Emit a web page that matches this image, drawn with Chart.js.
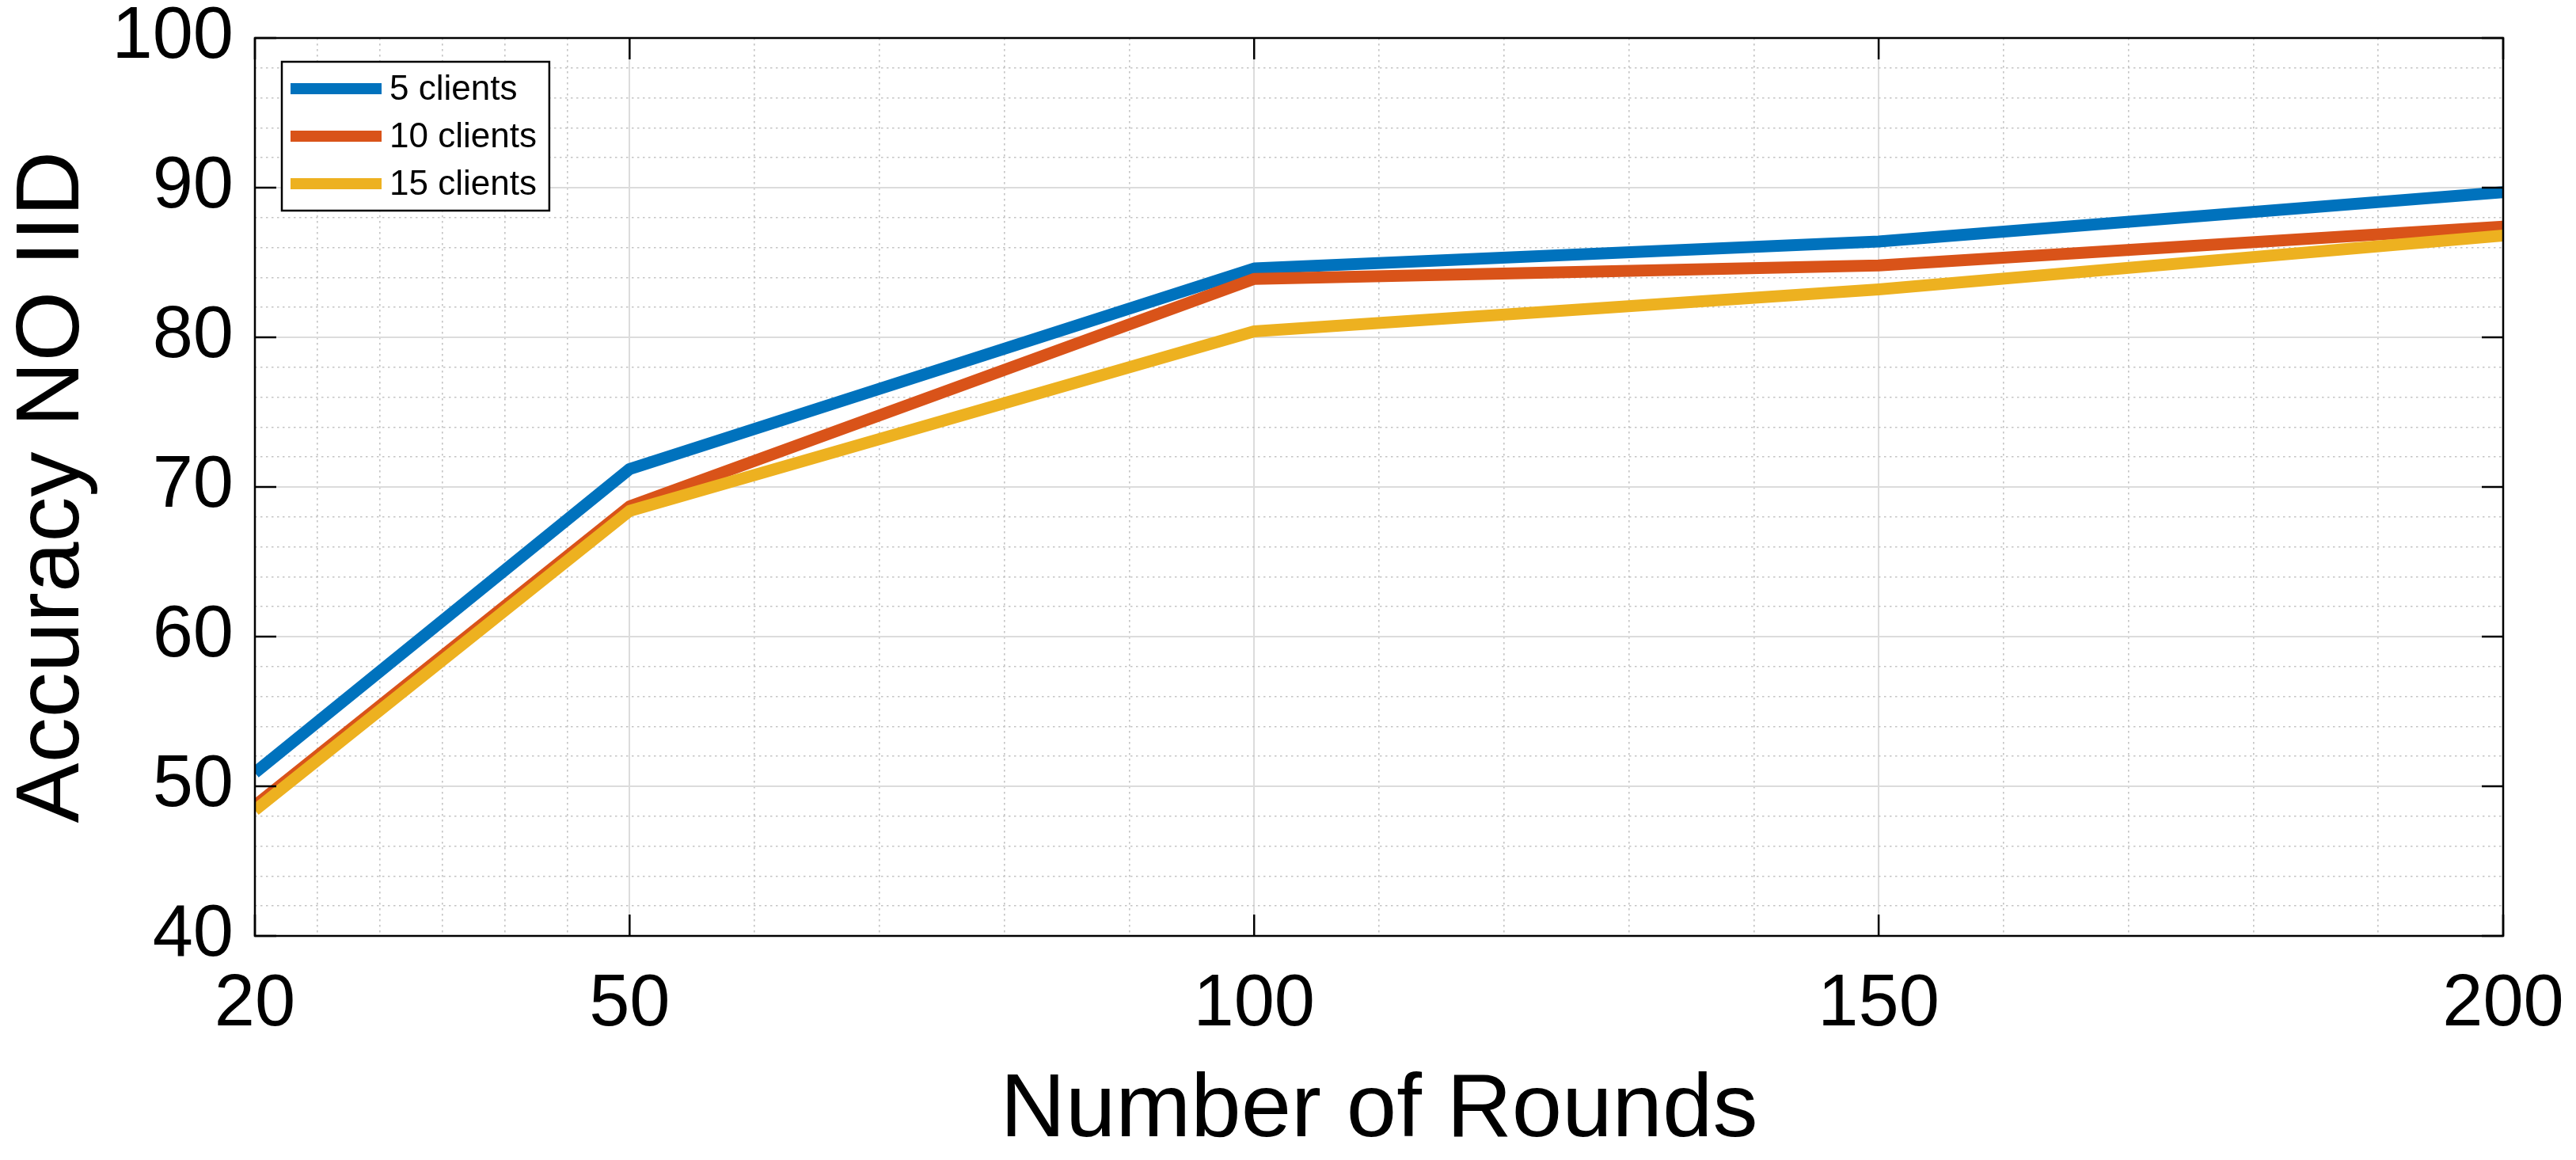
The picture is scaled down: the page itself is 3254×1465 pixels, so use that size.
<!DOCTYPE html>
<html>
<head>
<meta charset="utf-8">
<style>
  html, body { margin: 0; padding: 0; background: #ffffff; }
  #wrap { width: 3254px; height: 1465px; }
  canvas { display: block; }
</style>
<script src="https://cdn.jsdelivr.net/npm/chart.js@4.4.1/dist/chart.umd.min.js"></script>
</head>
<body>
<div id="wrap"><canvas id="chart" width="3254" height="1465"></canvas></div>
<script>
// ---- data ----
const rounds = [20, 50, 100, 150, 200];
const acc5 = [50.9, 71.2, 84.6, 86.4, 89.7];
const acc10 = [48.7, 68.7, 83.9, 84.8, 87.4];
const acc15 = [48.4, 68.4, 80.4, 83.2, 86.8];
const seriesLabels = ['5 clients', '10 clients', '15 clients'];
const xTickValues = [20, 50, 100, 150, 200];
const xMinorValues = [25, 30, 35, 40, 45, 60, 70, 80, 90, 110, 120, 130, 140, 160, 170, 180, 190];
const yTickValues = [40, 50, 60, 70, 80, 90, 100];
const xTitle = 'Number of Rounds';
const yTitle = 'Accuracy NO IID';

// ---- styles ----
const colors = ['#0072BD', '#D95319', '#EDB120'];
const FONT = "'Liberation Sans', Arial, Helvetica, sans-serif";
const majorGrid = '#dcdcdc';
const minorGrid = '#c4c4c4';
const LINE_W = 15;

Chart.defaults.font.family = FONT;
Chart.defaults.color = '#000000';

const isMajorX = v => xTickValues.includes(v);
const isMajorY = v => yTickValues.includes(v);

function mkDataset(label, values, color, order) {
  return {
    label: label,
    data: rounds.map((r, i) => ({ x: r, y: values[i] })),
    borderColor: color,
    backgroundColor: color,
    borderWidth: LINE_W,
    pointRadius: 0,
    pointHoverRadius: 0,
    tension: 0,
    fill: false,
    clip: 0,
    borderJoinStyle: 'round',
    borderCapStyle: 'butt',
    order: order
  };
}

// axes box + inward ticks
const framePlugin = {
  id: 'frame',
  afterDatasetsDraw(chart) {
    const { ctx, chartArea: ca, scales } = chart;
    ctx.save();
    ctx.strokeStyle = '#000000';
    ctx.lineWidth = 2.5;
    ctx.beginPath();
    const tl = 27;
    xTickValues.forEach(v => {
      const px = scales.x.getPixelForValue(v);
      ctx.moveTo(px, ca.bottom); ctx.lineTo(px, ca.bottom - tl);
      ctx.moveTo(px, ca.top); ctx.lineTo(px, ca.top + tl);
    });
    yTickValues.forEach(v => {
      const py = scales.y.getPixelForValue(v);
      ctx.moveTo(ca.left, py); ctx.lineTo(ca.left + tl, py);
      ctx.moveTo(ca.right, py); ctx.lineTo(ca.right - tl, py);
    });
    ctx.stroke();
    ctx.strokeRect(ca.left, ca.top, ca.right - ca.left, ca.bottom - ca.top);
    ctx.restore();
  }
};

// legend box drawn inside the plot area (top-left)
const legendPlugin = {
  id: 'boxLegend',
  afterDraw(chart) {
    const { ctx, chartArea: ca } = chart;
    const ds = chart.data.datasets;
    ctx.save();
    ctx.font = '44px ' + FONT;
    let maxW = 0;
    ds.forEach(d => { maxW = Math.max(maxW, ctx.measureText(d.label).width); });
    const left = ca.left + 34, top = ca.top + 30;
    const w = 136 + maxW + 16, h = 188;
    ctx.fillStyle = '#ffffff';
    ctx.fillRect(left, top, w, h);
    ctx.strokeStyle = '#000000';
    ctx.lineWidth = 2.5;
    ctx.strokeRect(left, top, w, h);
    ds.forEach((d, i) => {
      const cy = top + 34 + i * 60;
      ctx.strokeStyle = d.borderColor;
      ctx.lineWidth = 14;
      ctx.lineCap = 'butt';
      ctx.beginPath();
      ctx.moveTo(left + 11, cy);
      ctx.lineTo(left + 126, cy);
      ctx.stroke();
      ctx.fillStyle = '#000000';
      ctx.textBaseline = 'middle';
      ctx.textAlign = 'left';
      ctx.fillText(d.label, left + 136, cy + 2);
    });
    ctx.restore();
  }
};

new Chart(document.getElementById('chart'), {
  type: 'line',
  data: {
    datasets: [
      mkDataset(seriesLabels[0], acc5, colors[0], 3),
      mkDataset(seriesLabels[1], acc10, colors[1], 2),
      mkDataset(seriesLabels[2], acc15, colors[2], 1)
    ]
  },
  options: {
    responsive: false,
    devicePixelRatio: 1,
    animation: false,
    events: [],
    layout: { padding: { left: 0, right: 92, top: 48, bottom: 0 } },
    plugins: {
      legend: { display: false },
      tooltip: { enabled: false },
      title: { display: false }
    },
    scales: {
      x: {
        type: 'linear',
        min: 20,
        max: 200,
        afterBuildTicks: (scale) => {
          scale.ticks = xTickValues.concat(xMinorValues).sort((a, b) => a - b).map(v => ({ value: v }));
        },
        afterFit: (scale) => {
          scale.height = 283;
          scale.paddingLeft = 0;
          scale.paddingRight = 0;
          scale.paddingTop = 0;
          scale.paddingBottom = 0;
        },
        ticks: {
          autoSkip: false,
          maxRotation: 0,
          minRotation: 0,
          padding: 42,
          font: { size: 92, lineHeight: 1 },
          color: '#000000',
          callback: (v) => isMajorX(v) ? String(v) : ''
        },
        grid: {
          drawTicks: false,
          color: (c) => (c.tick && isMajorX(c.tick.value)) ? majorGrid : minorGrid,
          lineWidth: (c) => (c.tick && isMajorX(c.tick.value)) ? 2 : 1.6
        },
        border: {
          display: false,
          dash: (c) => (c.tick && !isMajorX(c.tick.value)) ? [2.5, 4.5] : []
        },
        title: {
          display: true,
          text: xTitle,
          color: '#000000',
          font: { size: 114, lineHeight: 1 },
          padding: { top: 0, bottom: 4.5 }
        }
      },
      y: {
        type: 'linear',
        min: 40,
        max: 100,
        afterFit: (scale) => {
          scale.width = 322;
          scale.paddingLeft = 0;
          scale.paddingRight = 0;
          scale.paddingTop = 0;
          scale.paddingBottom = 0;
        },
        ticks: {
          stepSize: 2,
          autoSkip: false,
          padding: 27,
          font: { size: 92, lineHeight: 1 },
          color: '#000000',
          callback: (v) => isMajorY(v) ? String(v) : ''
        },
        grid: {
          drawTicks: false,
          color: (c) => (c.tick && isMajorY(c.tick.value)) ? majorGrid : minorGrid,
          lineWidth: (c) => (c.tick && isMajorY(c.tick.value)) ? 2 : 1.6
        },
        border: {
          display: false,
          dash: (c) => (c.tick && !isMajorY(c.tick.value)) ? [2.5, 4.5] : []
        },
        title: {
          display: true,
          text: yTitle,
          color: '#000000',
          font: { size: 114, lineHeight: 1 },
          padding: { top: 10.5, bottom: 0 }
        }
      }
    }
  },
  plugins: [framePlugin, legendPlugin]
});
</script>
</body>
</html>
